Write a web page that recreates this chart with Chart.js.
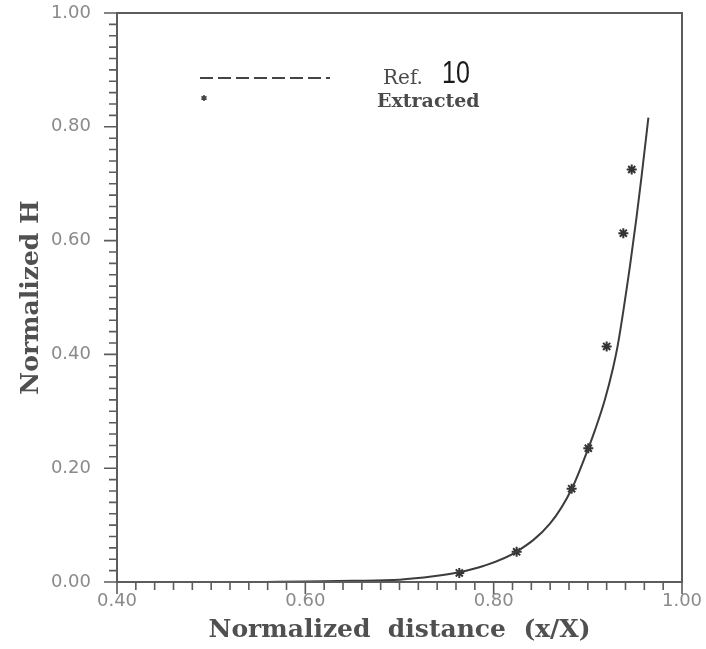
<!DOCTYPE html>
<html>
<head>
<meta charset="utf-8">
<script src="https://cdn.jsdelivr.net/npm/chart.js@4.4.1/dist/chart.umd.min.js"></script>
<style>
  html, body { margin: 0; padding: 0; background: #fff; }
  canvas { display: block; }
</style>
</head>
<body>
<canvas id="chart" width="706" height="649"></canvas>
<script>
// Ref. 10 curve (solid line)
const curveX = [0.558, 0.600, 0.650, 0.700, 0.736, 0.763, 0.789, 0.824, 0.860, 0.883, 0.9005, 0.9076, 0.918, 0.927, 0.932, 0.9448, 0.9518, 0.957, 0.9643];
const curveY = [0.000, 0.001, 0.002, 0.004, 0.010, 0.017, 0.028, 0.053, 0.103, 0.164, 0.235, 0.267, 0.320, 0.378, 0.418, 0.556, 0.642, 0.712, 0.816];

// extracted points (asterisks)
const extractedX = [0.7635, 0.8244, 0.8828, 0.9005, 0.920, 0.9377, 0.9466];
const extractedY = [0.016, 0.053, 0.164, 0.235, 0.414, 0.613, 0.725];

const xTickLabels = ['0.40', '0.60', '0.80', '1.00'];
const yTickLabels = ['0.00', '0.20', '0.40', '0.60', '0.80', '1.00'];

const legendLabels = ['Ref.', '10', 'Extracted'];

function isMajor(v) {
  return Math.round(v * 50) % 10 === 0;
}

// frame + outward tick marks
const frameTicks = {
  id: 'frameTicks',
  afterDraw(chart) {
    const { ctx, chartArea: a, scales: { x, y } } = chart;
    ctx.save();
    ctx.strokeStyle = '#5c5c5c';
    ctx.lineWidth = 2;
    ctx.strokeRect(a.left, a.top, a.right - a.left, a.bottom - a.top);
    ctx.lineWidth = 1.6;
    ctx.beginPath();
    x.ticks.forEach(t => {
      const px = x.getPixelForValue(t.value);
      const len = isMajor(t.value) ? 12 : 8;
      ctx.moveTo(px, a.bottom);
      ctx.lineTo(px, a.bottom + len);
    });
    y.ticks.forEach(t => {
      const py = y.getPixelForValue(t.value);
      const len = isMajor(t.value) ? 13 : 8;
      ctx.moveTo(a.left, py);
      ctx.lineTo(a.left - len, py);
    });
    ctx.stroke();
    ctx.restore();
  }
};

// legend drawn like the original figure
const figLegend = {
  id: 'figLegend',
  afterDraw(chart) {
    const ctx = chart.ctx;
    ctx.save();
    ctx.strokeStyle = '#444';
    ctx.lineWidth = 2;
    ctx.setLineDash([13, 5]);
    ctx.beginPath();
    ctx.moveTo(200, 78);
    ctx.lineTo(330, 78);
    ctx.stroke();
    ctx.setLineDash([]);

    // asterisk marker
    ctx.lineWidth = 1.6;
    ctx.beginPath();
    const cx = 204, cy = 98, r = 3;
    for (let i = 0; i < 3; i++) {
      const ang = Math.PI / 2 + i * Math.PI / 3;
      ctx.moveTo(cx + r * Math.cos(ang), cy + r * Math.sin(ang));
      ctx.lineTo(cx - r * Math.cos(ang), cy - r * Math.sin(ang));
    }
    ctx.stroke();

    ctx.fillStyle = '#4a4a4a';
    ctx.textBaseline = 'alphabetic';
    ctx.font = '20px "DejaVu Serif"';
    ctx.fillText(legendLabels[0], 383, 84);

    ctx.save();
    ctx.fillStyle = '#1a1a1a';
    ctx.font = '25px "Liberation Sans"';
    ctx.translate(442, 83);
    ctx.scale(1, 1.25);
    ctx.fillText(legendLabels[1], 0, 0);
    ctx.restore();

    ctx.fillStyle = '#4a4a4a';
    ctx.font = 'bold 19px "DejaVu Serif"';
    ctx.fillText(legendLabels[2], 377, 107);
    ctx.restore();
  }
};

const tickFont = { family: '"DejaVu Sans"', size: 18 };
const titleFont = { family: '"DejaVu Serif"', size: 25, weight: 'bold' };

new Chart(document.getElementById('chart'), {
  type: 'scatter',
  data: {
    datasets: [
      {
        label: 'Ref. 10',
        data: curveX.map((v, i) => ({ x: v, y: curveY[i] })),
        showLine: true,
        borderColor: '#3c3c3c',
        borderWidth: 2,
        pointRadius: 0,
        cubicInterpolationMode: 'monotone'
      },
      {
        label: 'Extracted',
        data: extractedX.map((v, i) => ({ x: v, y: extractedY[i] })),
        pointStyle: 'star',
        pointRadius: 5,
        borderWidth: 2,
        borderColor: '#333',
        backgroundColor: '#333'
      }
    ]
  },
  options: {
    responsive: false,
    animation: false,
    layout: { padding: { left: 0, top: 13, right: 24, bottom: 0 } },
    plugins: {
      legend: { display: false },
      tooltip: { enabled: false }
    },
    scales: {
      x: {
        type: 'linear',
        min: 0.4,
        max: 1.0,
        border: { display: false },
        grid: { display: false, drawTicks: false },
        ticks: {
          stepSize: 0.02,
          autoSkip: false,
          maxRotation: 0,
          padding: 9,
          color: '#8a8a8a',
          font: tickFont,
          callback: v => {
            const s = v.toFixed(2);
            return isMajor(v) && xTickLabels.includes(s) ? s : '';
          }
        },
        title: {
          display: true,
          text: 'Normalized  distance  (x/X)',
          color: '#505050',
          font: titleFont,
          padding: { top: 0, bottom: 4 }
        },
        afterFit: s => {
          s.height = 67;
          s.paddingLeft = 0;
          s.paddingRight = 0;
        }
      },
      y: {
        type: 'linear',
        min: 0,
        max: 1.0,
        border: { display: false },
        grid: { display: false, drawTicks: false },
        ticks: {
          stepSize: 0.02,
          autoSkip: false,
          padding: 26,
          color: '#8a8a8a',
          font: tickFont,
          callback: v => {
            const s = v.toFixed(2);
            return isMajor(v) && yTickLabels.includes(s) ? s : '';
          }
        },
        title: {
          display: true,
          text: 'Normalized H',
          color: '#505050',
          font: titleFont,
          padding: { top: 16, bottom: 0 }
        },
        afterFit: s => {
          s.width = 117;
          s.paddingTop = 0;
          s.paddingBottom = 0;
        }
      }
    }
  },
  plugins: [frameTicks, figLegend]
});
</script>
</body>
</html>
